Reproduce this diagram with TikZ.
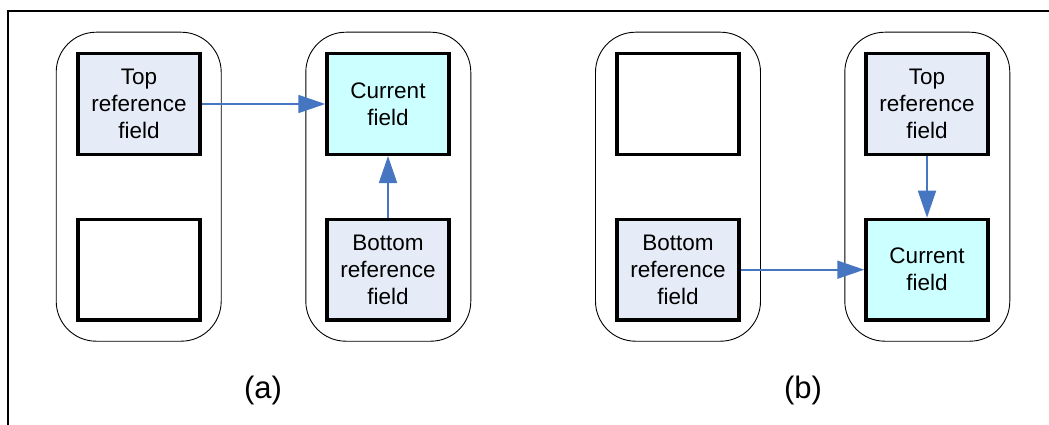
\documentclass[tikz,border=0pt]{standalone}
\usepackage{fontspec}
\setmainfont{Liberation Sans}
\usetikzlibrary{arrows.meta}
\definecolor{reffill}{HTML}{E6ECF7}
\definecolor{curfill}{HTML}{CCFFFF}
\definecolor{arrowblue}{HTML}{4676C2}
\begin{document}
\begin{tikzpicture}[x=1pt,y=-1pt,
  pill/.style={draw=black,line width=0.9pt,rounded corners=40pt,minimum width=165pt,minimum height=309pt,inner sep=0pt},
  fieldbox/.style={draw=black,line width=3.5pt,minimum width=122pt,minimum height=100.5pt,inner sep=0pt,align=center,font=\fontsize{22.5}{27}\selectfont},
  refbox/.style={fieldbox,fill=reffill},
  curbox/.style={fieldbox,fill=curfill},
  emptybox/.style={fieldbox,fill=white},
  conn/.style={draw=arrowblue,line width=1.8pt,-{Triangle[length=27pt,width=18pt]}},
  caption/.style={font=\fontsize{31}{36}\selectfont}
]
\useasboundingbox (0,0) rectangle (1049,425);
\draw[line width=2pt] (8,425) -- (8,11) -- (1049,11);
% pills
\node[pill] (pa1) at (138.7,186.7) {};
\node[pill] (pa2) at (388.3,186.7) {};
\node[pill] (pb1) at (678,186.7) {};
\node[pill] (pb2) at (927.3,186.7) {};
% (a)
\node[refbox] (a1) at (139,104) {Top\\reference\\field};
\node[emptybox] (a2) at (139,269.7) {};
\node[curbox] (a3) at (388,104) {Current\\field};
\node[refbox] (a4) at (388,269.7) {Bottom\\reference\\field};
\draw[conn] (a1.east) -- (a3.west);
\draw[conn] (a4.north) -- (a3.south);
% (b)
\node[emptybox] (b1) at (678,104) {};
\node[refbox] (b2) at (678,269.7) {Bottom\\reference\\field};
\node[refbox] (b3) at (927,104) {Top\\reference\\field};
\node[curbox] (b4) at (927,269.7) {Current\\field};
\draw[conn] (b2.east) -- (b4.west);
\draw[conn] (b3.south) -- (b4.north);
% captions
\node[caption] (ca) at (263,390) {(a)};
\node[caption] (cb) at (803,390) {(b)};
\end{tikzpicture}
\end{document}
